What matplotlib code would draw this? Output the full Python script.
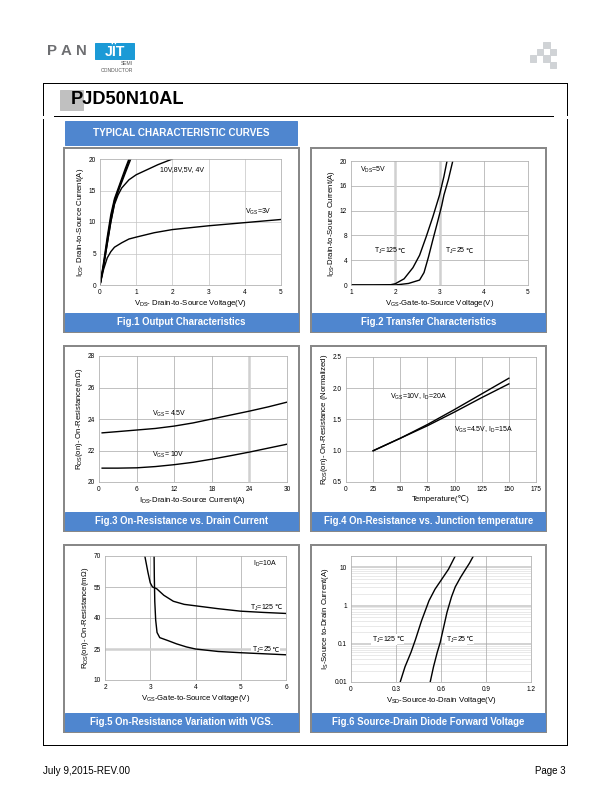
import matplotlib
matplotlib.use("Agg")
import matplotlib.pyplot as plt
from matplotlib.patches import Rectangle

plt.rcParams['font.family'] = ['Liberation Sans', 'DejaVu Sans']
plt.rcParams['mathtext.fontset'] = 'custom'
plt.rcParams['mathtext.rm'] = 'Liberation Sans'
plt.rcParams['mathtext.it'] = 'Liberation Sans'

# ---- Fig.1 output characteristics (VDS, ID) ----
f1_10v_x = [0, 0.1, 0.2, 0.3, 0.4, 0.5, 0.6, 0.7, 0.8]
f1_10v_y = [0, 3.6, 7.6, 11.2, 13.7, 15.3, 16.9, 18.5, 20]
f1_8v_x = [0, 0.1, 0.2, 0.3, 0.4, 0.5, 0.6, 0.7, 0.82]
f1_8v_y = [0, 3.3, 7.1, 10.6, 13.4, 15.0, 16.6, 18.1, 20]
f1_5v_x = [0, 0.1, 0.2, 0.3, 0.4, 0.5, 0.6, 0.7, 0.85]
f1_5v_y = [0, 3.0, 6.6, 10.1, 13.0, 14.8, 16.3, 17.8, 20]
f1_4v_x = [0, 0.1, 0.2, 0.3, 0.4, 0.5, 0.6, 0.8, 1.0, 1.3, 1.6, 2.0]
f1_4v_y = [0, 3.0, 6.5, 10.0, 12.8, 14.3, 15.4, 16.7, 17.5, 18.3, 19.1, 20]
f1_3v_x = [0, 0.1, 0.2, 0.3, 0.4, 0.6, 0.8, 1.0, 1.5, 2.0, 3.0, 4.0, 5.0]
f1_3v_y = [0, 2.5, 4.3, 5.3, 6.0, 6.7, 7.3, 7.6, 8.3, 8.8, 9.4, 9.9, 10.4]

# ---- Fig.2 transfer characteristics (VGS, ID) ----
f2_125_x = [1, 1.5, 1.9, 2.0, 2.2, 2.4, 2.55, 2.7, 2.85, 3.0, 3.1, 3.17]
f2_125_y = [0, 0, 0.05, 0.2, 1.0, 2.8, 4.8, 7.8, 11.0, 14.5, 17.5, 20]
f2_25_x = [1, 2.0, 2.3, 2.55, 2.65, 2.75, 2.85, 2.95, 3.05, 3.1, 3.2, 3.3]
f2_25_y = [0, 0, 0.25, 0.8, 2.0, 4.5, 7.3, 10.0, 12.8, 14.5, 17.0, 20]

# ---- Fig.3 on-resistance vs drain current ----
f3_id = [0.5, 3, 6, 9, 12, 15, 18, 21, 24, 27, 30]
f3_45v = [23.12, 23.2, 23.3, 23.4, 23.55, 23.75, 24.0, 24.25, 24.5, 24.77, 25.07]
f3_10v = [20.88, 20.88, 20.9, 20.98, 21.1, 21.25, 21.45, 21.67, 21.9, 22.15, 22.4]

# ---- Fig.4 normalized on-resistance vs temperature ----
f4_t = [25, 50, 75, 100, 125, 150]
f4_10v = [1.0, 1.2, 1.42, 1.66, 1.91, 2.16]
f4_45v = [1.0, 1.2, 1.4, 1.62, 1.85, 2.07]

# ---- Fig.5 on-resistance vs VGS ----
f5_125_x = [2.88, 2.95, 3.0, 3.05, 3.14, 3.3, 3.51, 3.75, 4.0, 4.5, 5.0, 5.5, 6.0]
f5_125_y = [70, 62, 57, 55, 54.2, 51.0, 48.1, 46.6, 45.9, 44.5, 43.3, 42.7, 42.2]
f5_25_x = [3.085, 3.09, 3.1, 3.12, 3.15, 3.21, 3.4, 3.58, 3.8, 4.0, 4.5, 5.0, 5.5, 6.0]
f5_25_y = [70, 60, 48, 39, 33, 30.5, 29.0, 27.5, 26.0, 25.0, 23.8, 23.2, 22.7, 22.2]

# ---- Fig.6 diode forward voltage ----
f6_125_x = [0.328, 0.36, 0.40, 0.43, 0.47, 0.52, 0.56, 0.60, 0.65, 0.695]
f6_125_y = [0.01, 0.025, 0.06, 0.13, 0.4, 1.35, 2.7, 4.6, 9.0, 20]
f6_25_x = [0.528, 0.55, 0.575, 0.595, 0.62, 0.64, 0.67, 0.695, 0.73, 0.76, 0.79, 0.816]
f6_25_y = [0.01, 0.025, 0.06, 0.11, 0.3, 0.67, 1.7, 3.1, 5.5, 8.5, 13, 20]

captions = ["Fig.1 Output Characteristics", "Fig.2 Transfer Characteristics",
            "Fig.3 On-Resistance vs. Drain Current",
            "Fig.4 On-Resistance vs. Junction temperature",
            "Fig.5 On-Resistance Variation with VGS.",
            "Fig.6 Source-Drain Diode Forward Voltage"]

BLUE = '#4f86cf'
W, H = 612, 792
LBL = 7  # in-plot annotation size


def px(x0, y0, x1, y1):
    return [x0 / W, 1 - y1 / H, (x1 - x0) / W, (y1 - y0) / H]


def setup(ax, xlim, ylim, xticks, yticks, xlabel, ylabel):
    ax.set_xlim(xlim)
    ax.set_ylim(ylim)
    ax.set_xticks(xticks)
    ax.set_yticks(yticks)
    ax.tick_params(length=0, labelsize=6.5, pad=4)
    for s in ax.spines.values():
        s.set_color('#b0b0b0')
        s.set_linewidth(0.8)
    ax.set_xlabel(xlabel, fontsize=7.8, labelpad=2)
    ax.set_ylabel(ylabel, fontsize=7.8, labelpad=3)


def gridlines(ax, xs=(), ys=(), thick_x=(), thick_y=(), color='#a8a8a8'):
    for v in xs:
        ax.axvline(v, color=color, lw=0.7, zorder=0)
    for v in ys:
        ax.axhline(v, color=color, lw=0.7, zorder=0)
    for v in thick_x:
        ax.axvline(v, color='#d0d0d0', lw=2.5, zorder=0)
    for v in thick_y:
        ax.axhline(v, color='#d0d0d0', lw=2.5, zorder=0)


def tj_label(ax, x, y, temp, boxed=False):
    # "T_J=125" via mathtext, the ℃ sign as plain text right after it
    box = dict(facecolor='white', edgecolor='none', pad=0.8) if boxed else None
    t = ax.text(x, y, r"T$_{\mathrm{J}}$=" + temp, fontsize=LBL, va='baseline',
                bbox=box, zorder=1.1)
    ax.annotate("℃", xy=(1, 0), xycoords=t, xytext=(-0.4, 1.4), textcoords='offset points',
                fontsize=LBL - 0.5, va='bottom', ha='left', bbox=box, zorder=1.0)


fig = plt.figure(figsize=(W / 72, H / 72), dpi=72)

# page layer in pixel coordinates
bg = fig.add_axes([0, 0, 1, 1])
bg.set_xlim(0, W)
bg.set_ylim(H, 0)
bg.axis('off')

# logo
for ch, x in zip("PAN", [47, 61, 76]):
    bg.text(x, 51, ch, fontsize=15, color='#6d6e71', fontweight='bold', va='center', ha='left')
bg.add_patch(Rectangle((95, 43), 39, 16, color='#1b9ad6'))
bg.text(114.5, 51.5, "JÏT", fontsize=14, color='white', fontweight='bold', ha='center', va='center')
bg.text(133, 63.5, "SEMI", fontsize=5, color='#555555', ha='right', va='center')
bg.text(133, 70.5, "CONDUCTOR", fontsize=5, color='#555555', ha='right', va='center')
for r, c in [(0, 2), (1, 1), (1, 3), (2, 0), (2, 2), (3, 3)]:
    bg.add_patch(Rectangle((530 + c * 6.7, 42 + r * 6.7), 6.3, 6.3, color='#d0d3d6'))

# frame and title
bg.plot([43, 567], [83, 83], color='black', lw=1)
bg.plot([43, 567], [745, 745], color='black', lw=1)
for x in (43, 567):
    bg.plot([x, x], [83, 115], color='black', lw=1)
    bg.plot([x, x], [119, 745], color='black', lw=1)
bg.plot([54, 553], [116, 116], color='black', lw=1)
bg.add_patch(Rectangle((60, 90), 23, 20, color='#c0c0c0'))
bg.text(71, 100, "PJD50N10AL", fontsize=18.2, fontweight='bold', ha='left', va='center')

bg.add_patch(Rectangle((65, 121), 232, 24, color=BLUE))
bg.text(181, 133.5, "TYPICAL CHARACTERISTIC CURVES", fontsize=9.9, fontweight='bold',
        color='white', ha='center', va='center')

# panel boxes with caption bars
col_x = [64, 311]
rows = [(148, 332), (346, 531), (545, 732)]
for i, cap in enumerate(captions):
    x0 = col_x[i % 2]
    top, bot = rows[i // 2]
    bg.add_patch(Rectangle((x0, top), 235, bot - top, facecolor='white',
                           edgecolor='#888888', lw=2))
    bg.add_patch(Rectangle((x0 + 1, bot - 19), 233, 17.5, color=BLUE))
    bg.text(x0 + 117.5, bot - 10.3, cap, fontsize=9.6, fontweight='bold',
            color='white', ha='center', va='center')

bg.text(43, 771, "July 9,2015-REV.00", fontsize=9.9, ha='left', va='center')
bg.text(566, 771, "Page 3", fontsize=9.7, ha='right', va='center')

lw = 1.4

# Fig.1
ax1 = fig.add_axes(px(100, 159, 281, 285))
setup(ax1, (0, 5), (0, 20), range(0, 6), range(0, 21, 5),
      r"V$_{\mathrm{DS}}$- Drain-to-Source Voltage(V)", r"I$_{\mathrm{DS}}$- Drain-to-Source Current(A)")
gridlines(ax1, xs=[1, 2, 3, 4], ys=[5, 10, 15], color='#c4c4c4')
for xs, ys in [(f1_10v_x, f1_10v_y), (f1_8v_x, f1_8v_y), (f1_5v_x, f1_5v_y),
               (f1_4v_x, f1_4v_y), (f1_3v_x, f1_3v_y)]:
    ax1.plot(xs, ys, color='black', lw=lw)
ax1.text(1.66, 18.4, "10V,8V,5V, 4V", fontsize=LBL, va='center')
ax1.text(4.0, 11.6, r"V$_{\mathrm{GS}}$=3V", fontsize=LBL, va='center')

# Fig.2
ax2 = fig.add_axes(px(351, 161, 528, 285))
setup(ax2, (1, 5), (0, 20), range(1, 6), range(0, 21, 4),
      r"V$_{\mathrm{GS}}$-Gate-to-Source Voltage(V)", r"I$_{\mathrm{DS}}$-Drain-to-Source Current(A)")
gridlines(ax2, xs=[4], ys=[4, 8, 12, 16], thick_x=[2, 3])
ax2.plot(f2_125_x, f2_125_y, color='black', lw=lw)
ax2.plot(f2_25_x, f2_25_y, color='black', lw=lw)
ax2.text(1.21, 18.6, r"V$_{\mathrm{DS}}$=5V", fontsize=LBL, va='center')
tj_label(ax2, 1.51, 5.2, "125")
tj_label(ax2, 3.13, 5.2, "25")

# Fig.3
ax3 = fig.add_axes(px(99, 356, 287, 482))
setup(ax3, (0, 30), (20, 28), range(0, 31, 6), range(20, 29, 2),
      r"I$_{\mathrm{DS}}$-Drain-to-Source Current(A)", r"R$_{\mathrm{DS}}$(on)- On-Resistance(mΩ)")
gridlines(ax3, xs=[6, 12, 18], ys=[22, 24, 26], thick_x=[24])
ax3.plot(f3_id, f3_45v, color='black', lw=lw)
ax3.plot(f3_id, f3_10v, color='black', lw=lw)
ax3.text(8.5, 24.3, r"V$_{\mathrm{GS}}$= 4.5V", fontsize=LBL, va='center')
ax3.text(8.5, 21.7, r"V$_{\mathrm{GS}}$= 10V", fontsize=LBL, va='center')

# Fig.4
ax4 = fig.add_axes(px(346, 357, 536, 482))
setup(ax4, (0, 175), (0.5, 2.5), range(0, 176, 25), [0.5, 1.0, 1.5, 2.0, 2.5],
      "Temperature(℃)", r"R$_{\mathrm{DS}}$(on)- On-Resistance (Normalized)")
ax4.set_yticklabels(["0.5", "1.0", "1.5", "2.0", "2.5"])
gridlines(ax4, xs=[25, 50, 75, 100, 125, 150], ys=[1.0, 1.5, 2.0])
ax4.plot(f4_t, f4_10v, color='black', lw=lw)
ax4.plot(f4_t, f4_45v, color='black', lw=lw)
ax4.text(40.5, 1.86, r"V$_{\mathrm{GS}}$=10V, I$_{\mathrm{D}}$=20A", fontsize=LBL, va='center')
ax4.text(99.8, 1.34, r"V$_{\mathrm{GS}}$=4.5V, I$_{\mathrm{D}}$=15A", fontsize=LBL, va='center')

# Fig.5
ax5 = fig.add_axes(px(105, 556, 286, 680))
setup(ax5, (2, 6), (10, 70), range(2, 7), range(10, 71, 15),
      r"V$_{\mathrm{GS}}$-Gate-to-Source Voltage(V)", r"R$_{\mathrm{DS}}$(on)- On-Resistance(mΩ)")
gridlines(ax5, xs=[3, 4, 5], ys=[40, 55], thick_y=[25])
ax5.plot(f5_125_x, f5_125_y, color='black', lw=lw)
ax5.plot(f5_25_x, f5_25_y, color='black', lw=lw)
ax5.text(5.28, 66, r"I$_{\mathrm{D}}$=10A", fontsize=LBL, va='center')
tj_label(ax5, 5.2, 44.2, "125")
tj_label(ax5, 5.24, 23.6, "25", boxed=True)

# Fig.6
ax6 = fig.add_axes(px(351, 556, 531, 682))
ax6.set_yscale('log')
setup(ax6, (0, 1.2), (0.01, 20), [0, 0.3, 0.6, 0.9, 1.2], [0.01, 0.1, 1, 10],
      r"V$_{\mathrm{SD}}$-Source-to-Drain Voltage(V)", r"I$_{\mathrm{S}}$-Source to-Drain Current(A)")
ax6.set_xticklabels(["0", "0.3", "0.6", "0.9", "1.2"])
ax6.set_yticklabels(["0.01", "0.1", "1", "10"])
ax6.yaxis.set_minor_locator(matplotlib.ticker.NullLocator())
minor = [m * d for d in (0.01, 0.1, 1) for m in range(2, 10)] + [20]
for v in minor:
    ax6.axhline(v, color='#dcdcdc', lw=0.6, zorder=0)
for v in (0.1, 1, 10):
    ax6.axhline(v, color='#cfcfcf', lw=1.8, zorder=0)
gridlines(ax6, xs=[0.3, 0.6, 0.9])
ax6.plot(f6_125_x, f6_125_y, color='black', lw=lw)
ax6.plot(f6_25_x, f6_25_y, color='black', lw=lw)
tj_label(ax6, 0.14, 0.115, "125", boxed=True)
tj_label(ax6, 0.63, 0.115, "25", boxed=True)

fig.savefig("out.png", dpi=72)
